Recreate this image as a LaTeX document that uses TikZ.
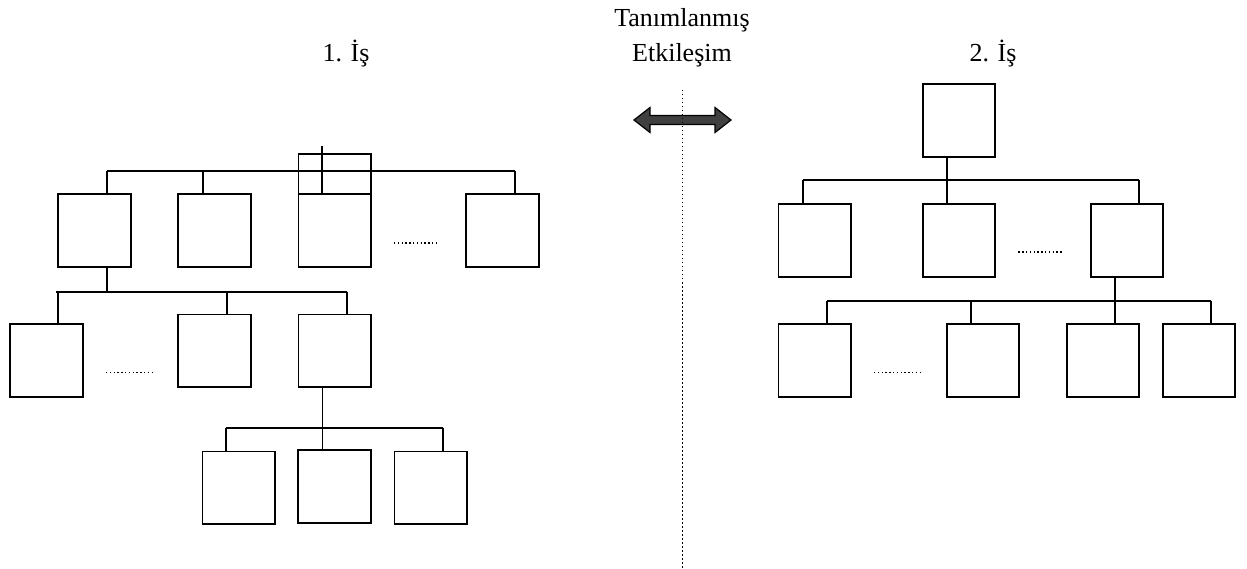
\documentclass[tikz,border=0pt]{standalone}
\usepackage{fontspec}
\setmainfont{Liberation Serif}
\definecolor{arrowgray}{HTML}{404040}
\begin{document}
\begin{tikzpicture}[x=1pt,y=-1pt,
  box/.style={draw, line width=1.9pt, minimum width=72.5pt, minimum height=72.5pt, inner sep=0pt},
  link/.style={line width=1.9pt},
  gap/.style={line width=1.6pt, dash pattern=on 1.4pt off 2.4pt},
  divider/.style={line width=1.5pt, dash pattern=on 1.5pt off 2.5pt},
  title/.style={font=\fontsize{26}{35}\selectfont, anchor=base, inner sep=0pt}]
\useasboundingbox (0,0) rectangle (1247,569);

% ---- titles ----
\node[title] (t1) at (346,62) {1. İş};
\node[title] (t2) at (993,62) {2. İş};
\node[title] (mid1) at (682,27) {Tanımlanmış};
\node[title] (mid2) at (682,62) {Etkileşim};

% ---- left hierarchy: first level ----
\node[box] (L1) at (94.5,230.5) {};
\node[box] (L2) at (214.5,230.5) {};
\node[box] (L3) at (334.7,230.5) {};
\node[box] (L4) at (502.3,230.5) {};
% extra frame sitting on top of L3
\node[draw, line width=1.9pt, inner sep=0pt, minimum width=72.5pt, minimum height=40pt] (L3top) at (334.7,174) {};
\coordinate (Lup) at (322.3,146);
\draw[link] (Lup) -- (Lup |- L3.north);
\coordinate (b1a) at (106.7,171);
\coordinate (b1b) at (514.6,171);
\draw[link] (b1a) -- (b1b);
\coordinate (d2) at (202.7,171);
\draw[link] (b1a) -- (b1a |- L1.north);
\draw[link] (d2) -- (d2 |- L2.north);
\draw[link] (b1b) -- (b1b |- L4.north);
\draw[gap] (394,243) -- (439,243);

% ---- left hierarchy: second level ----
\node[box] (A) at (46.5,360.5) {};
\node[box] (B) at (214.5,350.7) {};
\node[box] (C) at (334.7,350.7) {};
\coordinate (b2a) at (56,291.7);
\coordinate (b2b) at (347,291.7);
\coordinate (b2up) at (106.7,291.7);
\coordinate (dA) at (58,291.7);
\coordinate (dB) at (226.7,291.7);
\coordinate (dC) at (346.7,291.7);
\draw[link] (b2a) -- (b2b);
\draw[link] (b2up |- L1.south) -- (b2up);
\draw[link] (dA) -- (dA |- A.north);
\draw[link] (dB) -- (dB |- B.north);
\draw[link] (dC) -- (dC |- C.north);
\draw[gap] (106,372.5) -- (151.7,372.5);

% ---- left hierarchy: third level ----
\node[box] (D) at (238.7,487.7) {};
\node[box] (E) at (334.5,486.4) {};
\node[box] (F) at (430.7,487.7) {};
\coordinate (b3a) at (226.3,427.7);
\coordinate (b3b) at (443,427.7);
\coordinate (b3v) at (322.5,427.7);
\draw[link] (b3a) -- (b3b);
\draw[link] (b3v |- C.south) -- (b3v |- E.north);
\draw[link] (b3a) -- (b3a |- D.north);
\draw[link] (b3b) -- (b3b |- F.north);

% ---- interaction arrow and divider ----
\draw[line width=1.2pt, fill=arrowgray, line join=miter]
  (634,120) -- (650,107.5) -- (650,115.5) -- (715,115.5) -- (715,107.5)
  -- (731,120) -- (715,132.5) -- (715,124.5) -- (650,124.5) -- (650,132.5) -- cycle;
\coordinate (divtop) at (682.3,90);
\coordinate (divbot) at (682.3,569);
\draw[divider] (divtop) -- (divbot);

% ---- right hierarchy: root ----
\node[box] (T) at (959,120.4) {};
% ---- right hierarchy: first level ----
\node[box] (R1) at (814.7,240.5) {};
\node[box] (R2) at (959,240.5) {};
\node[box] (R3) at (1126.9,240.5) {};
\coordinate (r1a) at (802.7,180.3);
\coordinate (r1b) at (1139,180.3);
\coordinate (r1v) at (946.7,180.3);
\draw[link] (r1a) -- (r1b);
\draw[link] (r1v |- T.south) -- (r1v |- R2.north);
\draw[link] (r1a) -- (r1a |- R1.north);
\draw[link] (r1b) -- (r1b |- R3.north);
\draw[gap] (1018.3,252.3) -- (1063.7,252.3);

% ---- right hierarchy: second level ----
\node[box] (S1) at (814.7,360.5) {};
\node[box] (S2) at (982.9,360.5) {};
\node[box] (S3) at (1102.9,360.5) {};
\node[box] (S4) at (1198.9,360.5) {};
\coordinate (r2a) at (826.7,300.7);
\coordinate (r2b) at (1211,300.7);
\coordinate (r2s) at (970.7,300.7);
\coordinate (r2v) at (1115,300.7);
\draw[link] (r2a) -- (r2b);
\draw[link] (r2v |- R3.south) -- (r2v |- S3.north);
\draw[link] (r2a) -- (r2a |- S1.north);
\draw[link] (r2s) -- (r2s |- S2.north);
\draw[link] (r2b) -- (r2b |- S4.north);
\draw[gap] (874,372.3) -- (920,372.3);
\end{tikzpicture}
\end{document}
